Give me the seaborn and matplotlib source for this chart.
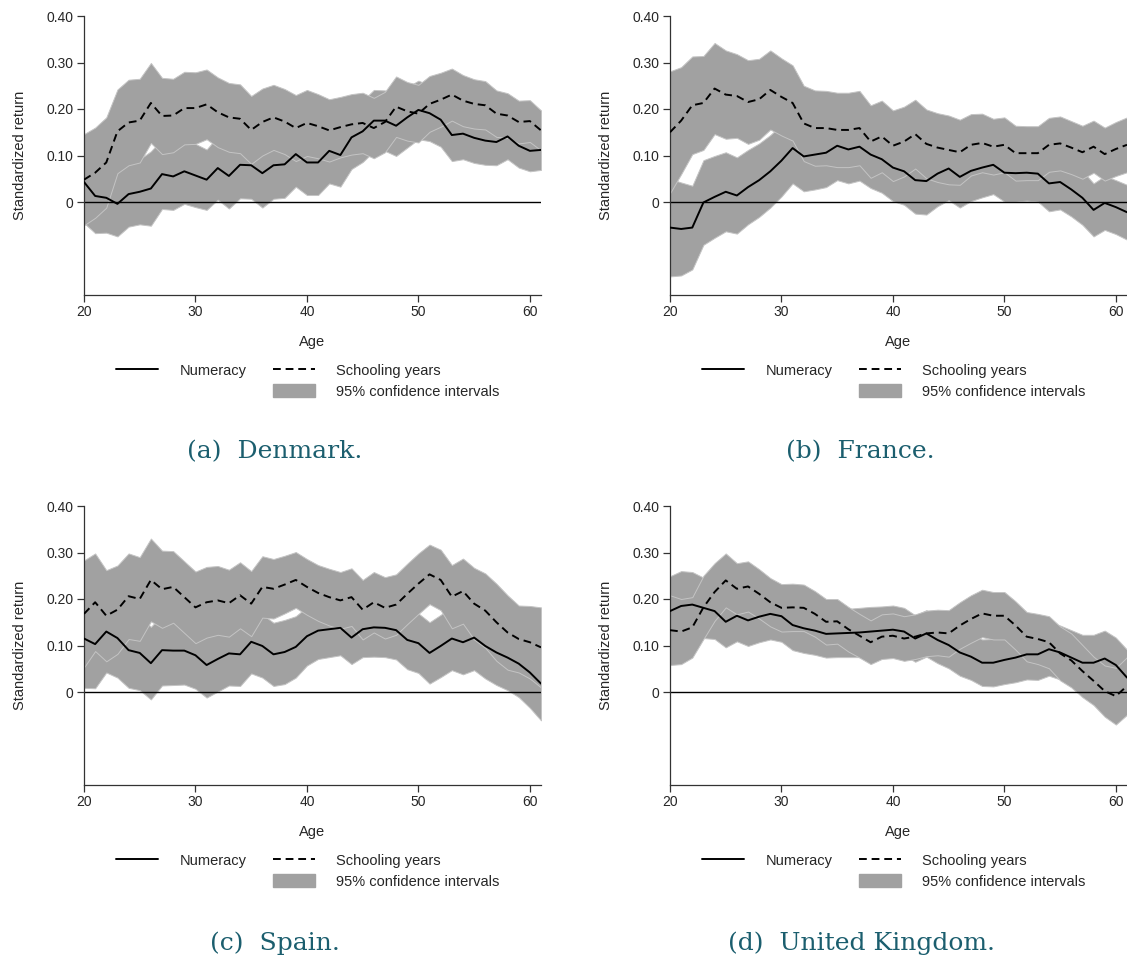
import numpy as np
import pandas as pd
import matplotlib
matplotlib.use("Agg")
import matplotlib.pyplot as plt
from matplotlib.lines import Line2D
from matplotlib.patches import Patch
import seaborn as sns

ages = list(range(20, 62))

countries = ["Denmark", "France", "Spain", "United Kingdom"]
captions = ["(a)  Denmark.", "(b)  France.", "(c)  Spain.", "(d)  United Kingdom."]

# point estimates, ages 20..61
dk_num = [0.043, 0.013, 0.009, -0.004, 0.017, 0.022, 0.029, 0.060, 0.055, 0.066,
          0.057, 0.048, 0.073, 0.056, 0.080, 0.079, 0.062, 0.079, 0.081, 0.103,
          0.085, 0.085, 0.110, 0.101, 0.139, 0.152, 0.175, 0.175, 0.164, 0.182,
          0.198, 0.191, 0.177, 0.144, 0.147, 0.138, 0.132, 0.129, 0.141, 0.121,
          0.110, 0.112]
dk_sch = [0.048, 0.063, 0.085, 0.152, 0.171, 0.175, 0.213, 0.185, 0.186, 0.202,
          0.202, 0.210, 0.193, 0.182, 0.179, 0.155, 0.172, 0.182, 0.173, 0.159,
          0.170, 0.163, 0.154, 0.161, 0.167, 0.170, 0.159, 0.172, 0.205, 0.195,
          0.190, 0.211, 0.220, 0.231, 0.218, 0.211, 0.208, 0.190, 0.186, 0.172,
          0.174, 0.154]
fr_num = [-0.055, -0.058, -0.055, -0.001, 0.011, 0.022, 0.014, 0.032, 0.047, 0.066,
          0.089, 0.116, 0.098, 0.102, 0.106, 0.121, 0.113, 0.119, 0.102, 0.092,
          0.074, 0.066, 0.047, 0.045, 0.061, 0.072, 0.054, 0.067, 0.074, 0.080,
          0.063, 0.062, 0.063, 0.061, 0.040, 0.043, 0.027, 0.009, -0.017, -0.002,
          -0.011, -0.022]
fr_sch = [0.150, 0.175, 0.208, 0.213, 0.244, 0.231, 0.228, 0.215, 0.221, 0.241,
          0.226, 0.213, 0.169, 0.159, 0.159, 0.155, 0.155, 0.159, 0.130, 0.141,
          0.121, 0.130, 0.146, 0.125, 0.117, 0.112, 0.107, 0.123, 0.127, 0.119,
          0.123, 0.105, 0.105, 0.105, 0.123, 0.126, 0.117, 0.107, 0.119, 0.103,
          0.114, 0.123]
es_num = [0.115, 0.103, 0.130, 0.116, 0.090, 0.084, 0.062, 0.090, 0.089, 0.089,
          0.079, 0.058, 0.071, 0.083, 0.081, 0.108, 0.099, 0.081, 0.086, 0.097,
          0.120, 0.132, 0.135, 0.138, 0.117, 0.135, 0.139, 0.138, 0.133, 0.112,
          0.105, 0.084, 0.099, 0.115, 0.107, 0.117, 0.099, 0.085, 0.074, 0.061,
          0.042, 0.018]
es_sch = [0.168, 0.193, 0.164, 0.177, 0.206, 0.200, 0.241, 0.221, 0.226, 0.204,
          0.182, 0.193, 0.197, 0.191, 0.208, 0.190, 0.226, 0.222, 0.231, 0.241,
          0.226, 0.213, 0.204, 0.197, 0.204, 0.177, 0.193, 0.181, 0.188, 0.211,
          0.233, 0.253, 0.241, 0.205, 0.217, 0.190, 0.175, 0.150, 0.128, 0.114,
          0.107, 0.096]
uk_num = [0.174, 0.185, 0.188, 0.181, 0.174, 0.151, 0.164, 0.154, 0.162, 0.168,
          0.163, 0.144, 0.137, 0.132, 0.125, 0.126, 0.127, 0.128, 0.130, 0.132,
          0.134, 0.130, 0.115, 0.126, 0.112, 0.101, 0.085, 0.076, 0.063, 0.063,
          0.069, 0.074, 0.081, 0.081, 0.092, 0.085, 0.074, 0.063, 0.063, 0.072,
          0.058, 0.031]
uk_sch = [0.133, 0.130, 0.139, 0.182, 0.215, 0.240, 0.222, 0.227, 0.211, 0.193,
          0.181, 0.182, 0.181, 0.168, 0.151, 0.152, 0.135, 0.121, 0.107, 0.119,
          0.121, 0.115, 0.119, 0.126, 0.128, 0.126, 0.143, 0.157, 0.169, 0.164,
          0.164, 0.143, 0.119, 0.114, 0.107, 0.083, 0.068, 0.045, 0.024, 0.002,
          -0.009, 0.013]

# half widths of the 95% confidence intervals
dk_num_ci = [0.088, 0.080, 0.075, 0.070, 0.070, 0.070, 0.080, 0.075, 0.072, 0.070,
             0.068, 0.065, 0.068, 0.070, 0.072, 0.072, 0.074, 0.072, 0.072, 0.070,
             0.070, 0.070, 0.070, 0.068, 0.068, 0.066, 0.066, 0.065, 0.065, 0.065,
             0.063, 0.060, 0.058, 0.056, 0.055, 0.054, 0.052, 0.050, 0.049, 0.047,
             0.044, 0.043]
dk_sch_ci = [0.098, 0.097, 0.097, 0.090, 0.092, 0.090, 0.086, 0.082, 0.079, 0.078,
             0.077, 0.075, 0.075, 0.074, 0.074, 0.073, 0.072, 0.070, 0.070, 0.071,
             0.071, 0.069, 0.067, 0.065, 0.065, 0.065, 0.065, 0.065, 0.065, 0.063,
             0.062, 0.060, 0.058, 0.056, 0.055, 0.053, 0.052, 0.050, 0.048, 0.046,
             0.045, 0.043]
fr_num_ci = [0.105, 0.100, 0.090, 0.091, 0.088, 0.085, 0.082, 0.080, 0.079, 0.078,
             0.077, 0.076, 0.075, 0.075, 0.074, 0.074, 0.073, 0.073, 0.072, 0.072,
             0.072, 0.072, 0.072, 0.072, 0.070, 0.068, 0.066, 0.065, 0.064, 0.063,
             0.062, 0.061, 0.060, 0.060, 0.060, 0.059, 0.058, 0.058, 0.057, 0.058,
             0.058, 0.059]
fr_sch_ci = [0.131, 0.115, 0.105, 0.101, 0.098, 0.095, 0.090, 0.090, 0.087, 0.085,
             0.083, 0.081, 0.081, 0.081, 0.080, 0.080, 0.080, 0.080, 0.078, 0.077,
             0.076, 0.075, 0.074, 0.074, 0.074, 0.074, 0.070, 0.066, 0.063, 0.060,
             0.059, 0.059, 0.058, 0.058, 0.058, 0.058, 0.057, 0.057, 0.056, 0.057,
             0.058, 0.059]
es_num_ci = [0.106, 0.095, 0.088, 0.085, 0.081, 0.080, 0.078, 0.076, 0.074, 0.073,
             0.072, 0.070, 0.070, 0.069, 0.068, 0.068, 0.068, 0.068, 0.069, 0.066,
             0.063, 0.061, 0.060, 0.059, 0.057, 0.060, 0.063, 0.063, 0.063, 0.063,
             0.064, 0.066, 0.067, 0.068, 0.069, 0.070, 0.070, 0.070, 0.070, 0.072,
             0.076, 0.079]
es_sch_ci = [0.115, 0.105, 0.098, 0.095, 0.092, 0.090, 0.089, 0.083, 0.077, 0.077,
             0.077, 0.076, 0.074, 0.072, 0.071, 0.070, 0.066, 0.064, 0.062, 0.060,
             0.060, 0.060, 0.061, 0.061, 0.062, 0.064, 0.065, 0.066, 0.065, 0.065,
             0.065, 0.064, 0.065, 0.068, 0.070, 0.077, 0.080, 0.083, 0.080, 0.072,
             0.078, 0.086]
uk_num_ci = [0.075, 0.075, 0.070, 0.065, 0.060, 0.055, 0.055, 0.055, 0.055, 0.055,
             0.055, 0.054, 0.053, 0.052, 0.051, 0.051, 0.052, 0.053, 0.053, 0.052,
             0.052, 0.051, 0.050, 0.050, 0.050, 0.050, 0.050, 0.050, 0.050, 0.051,
             0.052, 0.053, 0.054, 0.055, 0.057, 0.058, 0.059, 0.060, 0.060, 0.060,
             0.059, 0.060]
uk_sch_ci = [0.075, 0.070, 0.065, 0.068, 0.062, 0.058, 0.055, 0.054, 0.053, 0.052,
             0.051, 0.051, 0.050, 0.049, 0.049, 0.048, 0.048, 0.047, 0.047, 0.048,
             0.048, 0.048, 0.048, 0.049, 0.049, 0.050, 0.050, 0.051, 0.051, 0.051,
             0.051, 0.052, 0.053, 0.054, 0.056, 0.058, 0.058, 0.056, 0.052, 0.055,
             0.061, 0.062]

yticks = [0, 0.10, 0.20, 0.30, 0.40]
ytick_labels = ["0", "0.10", "0.20", "0.30", "0.40"]
xticks = [20, 30, 40, 50, 60]

series = {
    "Denmark": (dk_num, dk_num_ci, dk_sch, dk_sch_ci),
    "France": (fr_num, fr_num_ci, fr_sch, fr_sch_ci),
    "Spain": (es_num, es_num_ci, es_sch, es_sch_ci),
    "United Kingdom": (uk_num, uk_num_ci, uk_sch, uk_sch_ci),
}

rows = []
for c in countries:
    num, num_ci, sch, sch_ci = series[c]
    for i, a in enumerate(ages):
        rows.append((c, "Numeracy", a, num[i], num_ci[i]))
        rows.append((c, "Schooling years", a, sch[i], sch_ci[i]))
df = pd.DataFrame(rows, columns=["country", "measure", "age", "ret", "ci"])
df["lo"] = df["ret"] - df["ci"]
df["hi"] = df["ret"] + df["ci"]

sns.set_theme(style="ticks")
plt.rcParams["font.family"] = ["Liberation Sans", "DejaVu Sans"]

band_col = "#a1a1a1"
edge_col = "#c4c4c4"
cap_col = "#1b5e6e"

W, H = 1127, 959
fig = plt.figure(figsize=(W / 100, H / 100), dpi=100)

# axes boxes in pixels: left, top, right, bottom
boxes = [(84, 16, 541, 295), (670, 16, 1127, 295),
         (84, 506, 541, 785), (670, 506, 1127, 785)]
cap_pos = [(275, 452), (860, 452), (275, 943), (861, 943)]

for k, c in enumerate(countries):
    l, t, r, b = boxes[k]
    ax = fig.add_axes([l / W, 1 - b / H, (r - l) / W, (b - t) / H])
    sub = df[df["country"] == c]
    for m in ["Numeracy", "Schooling years"]:
        s = sub[sub["measure"] == m]
        ax.fill_between(s["age"], s["lo"], s["hi"], facecolor=band_col,
                        edgecolor=edge_col, linewidth=0.7, zorder=1)
    ax.axhline(0, color="black", linewidth=1.0, zorder=2)
    sns.lineplot(data=sub, x="age", y="ret", style="measure",
                 style_order=["Numeracy", "Schooling years"],
                 dashes={"Numeracy": "", "Schooling years": (4, 2.5)},
                 color="black", linewidth=1.4, legend=False, ax=ax, zorder=3)
    ax.set_xlim(20, 61)
    ax.set_ylim(-0.2, 0.4)
    ax.set_yticks(yticks)
    ax.set_yticklabels(ytick_labels)
    ax.set_xticks(xticks)
    ax.tick_params(axis="both", labelsize=10, length=5, width=0.9,
                   color="#333333", pad=2.5)
    for sp in ["left", "bottom"]:
        ax.spines[sp].set_color("#333333")
        ax.spines[sp].set_linewidth(0.9)
    sns.despine(ax=ax)
    ax.set_xlabel("Age", fontsize=10.5, labelpad=11)
    ax.set_ylabel("Standardized return", fontsize=10.5, labelpad=14)

    handles = [Line2D([0], [0], color="black", linewidth=1.4),
               Patch(visible=False),
               Line2D([0], [0], color="black", linewidth=1.4, dashes=(4, 2.5)),
               Patch(facecolor=band_col, edgecolor=band_col)]
    labels = ["Numeracy", "", "Schooling years", "95% confidence intervals"]
    ax.legend(handles, labels, loc="upper center", bbox_to_anchor=(0.49, -0.22),
              ncol=2, frameon=False, fontsize=10.5, handlelength=2.9,
              handleheight=1.0, handletextpad=1.45, columnspacing=1.8,
              labelspacing=0.4, borderpad=0)

    cx, cy = cap_pos[k]
    fig.text(cx / W, 1 - cy / H, captions[k], ha="center", va="center",
             fontsize=18, color=cap_col, family=["DejaVu Serif"])

fig.savefig("out.png", dpi=100)
